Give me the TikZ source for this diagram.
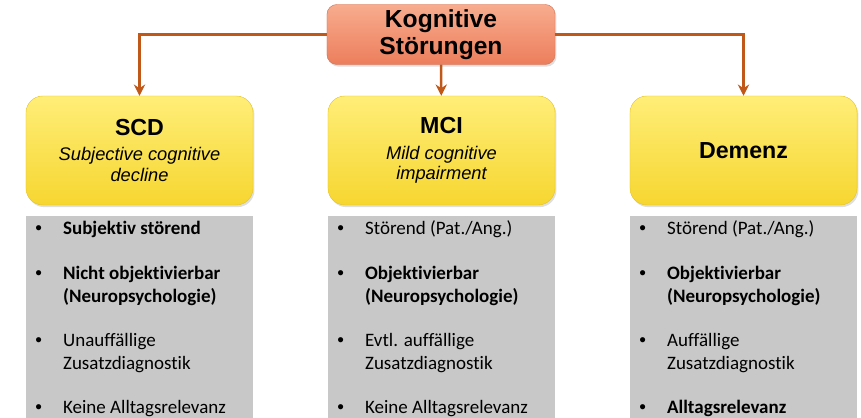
\documentclass[tikz,border=0pt]{standalone}
\usepackage{fontspec}
\setmainfont{Carlito}[Ligatures=NoCommon]
\newfontfamily\arialfont{Liberation Sans}
\usepackage{tikz}
\usetikzlibrary{positioning, shadows, arrows.meta}
\usepackage{xcolor}

\definecolor{salmonlt}{RGB}{248,172,142}
\definecolor{salmondk}{RGB}{236,126,92}
\definecolor{yellowlt}{RGB}{255,238,120}
\definecolor{yellowdk}{RGB}{246,214,48}
\definecolor{yellowedge}{RGB}{230,196,40}
\definecolor{listgrey}{RGB}{200,200,200}
\definecolor{connbrown}{RGB}{192,88,25}

\tikzset{
    topbox/.style={rounded corners=7pt, top color=salmonlt, bottom color=salmondk,
        draw=salmondk!90!black, line width=0.3pt,
        minimum width=5.7cm, minimum height=1.5cm, align=center,
        font=\arialfont\bfseries\fontsize{17.5}{19}\selectfont,
        drop shadow={opacity=0.25, shadow xshift=1pt, shadow yshift=-1.5pt}},
    catbox/.style={rounded corners=12pt, top color=yellowlt, bottom color=yellowdk,
        draw=yellowedge, line width=0.3pt,
        minimum width=5.675cm, minimum height=2.725cm, align=center,
        font=\arialfont\itshape\fontsize{13}{14.5}\selectfont,
        drop shadow={opacity=0.25, shadow xshift=1pt, shadow yshift=-1.5pt}},
    listbox/.style={fill=listgrey, inner sep=0pt,
        minimum width=5.675cm, minimum height=5.075cm},
    listtext/.style={anchor=base west, inner sep=0pt,
        font=\fontsize{13.5}{16.4}\selectfont},
    conn/.style={draw=connbrown, line width=1.8pt, -{Stealth[length=8pt,width=8pt]}}
}

\newcommand{\cattitle}[1]{{\fontsize{16.5}{18}\selectfont\bfseries\upshape #1}}
\newcommand{\blt}{{\arialfont\textbullet}}

\begin{document}
\begin{tikzpicture}[x=0.025cm, y=-0.025cm]
    \useasboundingbox (0,0) rectangle (861,418);

    % Top box
    \node[topbox] (kog) at (441,34.5) {Kognitive\\Störungen};

    % Categories
    \node[catbox] (scd) at (139.5,150.5) {\cattitle{SCD}\\[3.3pt]Subjective cognitive\\decline};
    \node[catbox] (mci) at (441.5,150.5) {\cattitle{MCI}\\[3.3pt]Mild cognitive\\impairment};
    \node[catbox] (dem) at (743.5,150.5) {\cattitle{Demenz}};

    % Arrows
    \draw[conn] (kog.west) -| (scd.north);
    \draw[conn] (kog) -- (mci);
    \draw[conn] (kog.east) -| (dem.north);

    % Grey lists
    \node[listbox, below=0.25cm of scd] (scdl) {};
    \node[listbox, below=0.25cm of mci] (mcil) {};
    \node[listbox, below=0.25cm of dem] (deml) {};

    \node[listtext] (scdtxt) at (35,235) {\begin{tabular}[t]{@{}p{19.8pt}@{}l@{}}
        \blt & \textbf{Subjektiv störend}\\[14.9pt]
        \blt & \textbf{Nicht objektivierbar}\\
             & \textbf{(Neuropsychologie)}\\[14.9pt]
        \blt & Unauffällige\\
             & Zusatzdiagnostik\\[14.9pt]
        \blt & Keine Alltagsrelevanz
    \end{tabular}};
    \node[listtext] (mcitxt) at (337,235) {\begin{tabular}[t]{@{}p{19.8pt}@{}l@{}}
        \blt & Störend (Pat./Ang.)\\[14.9pt]
        \blt & \textbf{Objektivierbar}\\
             & \textbf{(Neuropsychologie)}\\[14.9pt]
        \blt & Evtl. auffällige\\
             & Zusatzdiagnostik\\[14.9pt]
        \blt & Keine Alltagsrelevanz
    \end{tabular}};
    \node[listtext] (demtxt) at (639,235) {\begin{tabular}[t]{@{}p{19.8pt}@{}l@{}}
        \blt & Störend (Pat./Ang.)\\[14.9pt]
        \blt & \textbf{Objektivierbar}\\
             & \textbf{(Neuropsychologie)}\\[14.9pt]
        \blt & Auffällige\\
             & Zusatzdiagnostik\\[14.9pt]
        \blt & \textbf{Alltagsrelevanz}
    \end{tabular}};
\end{tikzpicture}
\end{document}
